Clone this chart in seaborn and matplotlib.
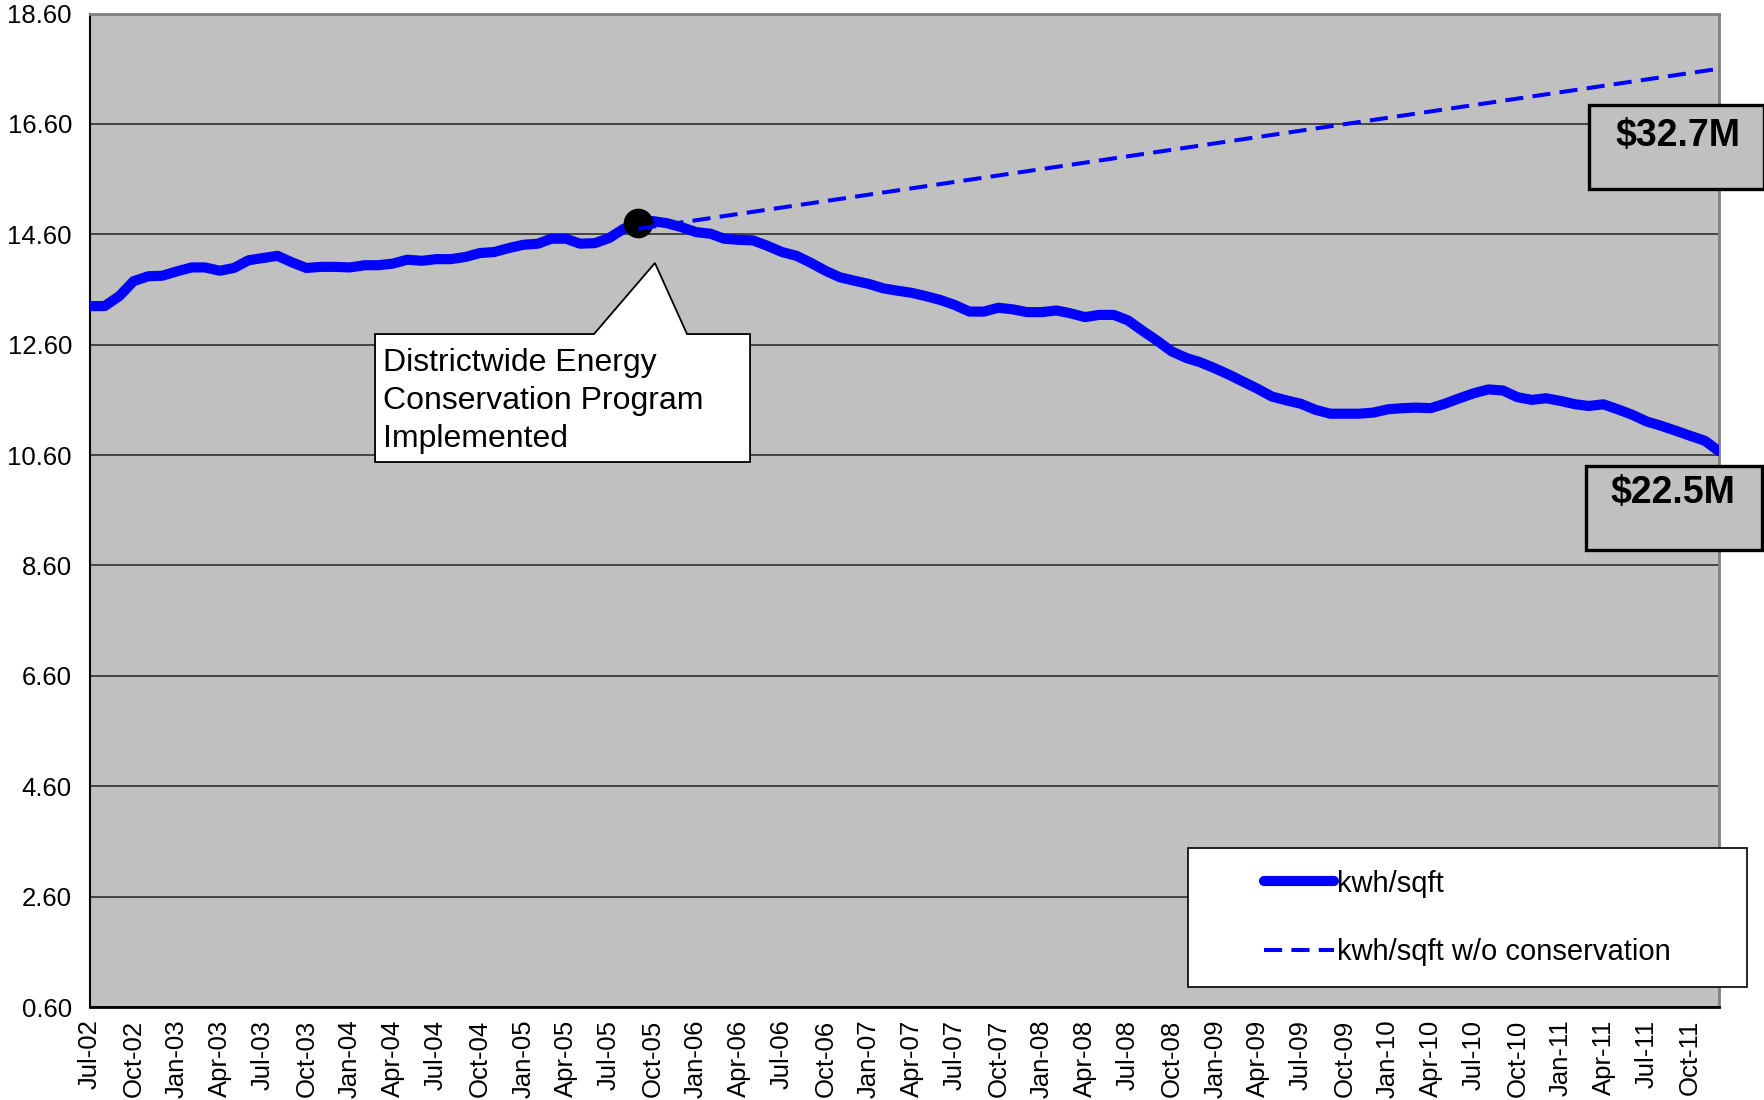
import numpy as np
import pandas as pd
import matplotlib
matplotlib.use("Agg")
import matplotlib.pyplot as plt
from matplotlib.patches import Rectangle, Polygon
import seaborn as sns

sns.set_style("white")
plt.rcParams['font.family'] = ['Liberation Sans', 'DejaVu Sans']
plt.rcParams['text.color'] = 'black'
plt.rcParams['xtick.color'] = 'black'
plt.rcParams['ytick.color'] = 'black'
plt.rcParams['axes.labelcolor'] = 'black'

# dados (kwh/sqft mensal, Jul-02 .. Dec-11)
kwh_sqft = [
    13.30, 13.30, 13.48, 13.75, 13.84, 13.85, 13.93, 14.00, 14.00, 13.94,
    13.99, 14.13, 14.17, 14.21, 14.09, 13.99, 14.01, 14.01, 14.00, 14.04,
    14.04, 14.07, 14.14, 14.12, 14.15, 14.15, 14.19, 14.26, 14.28, 14.35,
    14.41, 14.43, 14.52, 14.52, 14.43, 14.44, 14.53, 14.70, 14.80, 14.84,
    14.80, 14.73, 14.64, 14.61, 14.52, 14.50, 14.49, 14.39, 14.28, 14.21,
    14.08, 13.94, 13.82, 13.76, 13.70, 13.62, 13.58, 13.54, 13.48, 13.41,
    13.32, 13.20, 13.20, 13.27, 13.24, 13.19, 13.19, 13.22, 13.17, 13.10,
    13.14, 13.14, 13.04, 12.85, 12.67, 12.48, 12.36, 12.28, 12.17, 12.05,
    11.93, 11.80, 11.66, 11.59, 11.53, 11.42, 11.35, 11.35, 11.35, 11.37,
    11.43, 11.45, 11.46, 11.45, 11.53, 11.63, 11.72, 11.79, 11.77, 11.65,
    11.60, 11.63, 11.58, 11.52, 11.49, 11.52, 11.43, 11.33, 11.21, 11.13,
    11.04, 10.95, 10.86, 10.67,
]
start_month = "2002-07-01"

# linha sem conservacao (reta a partir da implantacao)
no_cons_months = ["2005-09-01", "2011-12-01"]
no_cons_values = [14.70, 17.60]

# ponto de implantacao do programa
program_month = "2005-09-01"
program_value = 14.80

y_ticks = [0.60, 2.60, 4.60, 6.60, 8.60, 10.60, 12.60, 14.60, 16.60, 18.60]
cost_labels = ["$32.7M", "$22.5M"]
callout_text = "Districtwide Energy\nConservation Program\nImplemented"
legend_labels = ["kwh/sqft", "kwh/sqft w/o conservation"]

months = pd.date_range(start_month, periods=len(kwh_sqft), freq="MS")
df = pd.DataFrame({"month": months, "kwh": kwh_sqft})
df_nc = pd.DataFrame({"month": pd.to_datetime(no_cons_months), "kwh": no_cons_values})

fig = plt.figure(figsize=(17.64, 11), dpi=100)
ax = fig.add_axes([0.051, 0.0845, 0.9235, 0.9032])
ax.set_facecolor("#C0C0C0")

sns.lineplot(data=df, x="month", y="kwh", ax=ax, color="#0000FF", linewidth=7.3,
             solid_joinstyle="round", label=legend_labels[0], zorder=3)
sns.scatterplot(x=[pd.Timestamp(program_month)], y=[program_value], ax=ax,
                color="black", s=390, edgecolor="black", zorder=4, legend=False)
sns.lineplot(data=df_nc, x="month", y="kwh", ax=ax, color="#0000FF", linewidth=2.9,
             linestyle=(0, (4.5, 2.3)), label=legend_labels[1], zorder=5)

ax.set_xlim(months[0], months[-1])
ax.set_ylim(y_ticks[0], y_ticks[-1])
ax.set_yticks(y_ticks)
ax.set_yticklabels([f"{v:.2f}" for v in y_ticks])
ax.set_xticks(months[::3])
ax.set_xticklabels([d.strftime("%b-%y") for d in months[::3]], rotation=90)
ax.set_xlabel("")
ax.set_ylabel("")
ax.tick_params(axis="both", direction="out", length=5, width=1.2, colors="black",
               labelsize=18.5)
ax.tick_params(axis="y", pad=8)
ax.tick_params(axis="x", pad=4)
ax.yaxis.grid(True, color="#3a3a3a", linewidth=1.3)
ax.set_axisbelow(True)

ax.spines["left"].set_color("black")
ax.spines["left"].set_linewidth(1.5)
ax.spines["bottom"].set_color("black")
ax.spines["bottom"].set_linewidth(2)
for s in ["top", "right"]:
    ax.spines[s].set_color("#808080")
    ax.spines[s].set_linewidth(2)

# caixa de anotacao com ponteiro
callout = Polygon([(0.1750, 0.6774), (0.3094, 0.6774), (0.3468, 0.7489), (0.3665, 0.6774),
                   (0.4052, 0.6774), (0.4052, 0.5486), (0.1750, 0.5486)],
                  closed=True, transform=ax.transAxes, facecolor="white",
                  edgecolor="black", linewidth=1.3, zorder=6)
ax.add_patch(callout)
ax.text(0.1796, 0.663, callout_text, transform=ax.transAxes, fontsize=23,
        va="top", ha="left", linespacing=1.33, zorder=7)

# caixas de custo
for (x0, y0, x1, y1), (tx, ty), lab in zip(
        [(0.9202, 0.8234, 1.0276, 0.9079), (0.9184, 0.4600, 1.0264, 0.5445)],
        [(0.9748, 0.8770), (0.9718, 0.5175)], cost_labels):
    ax.add_patch(Rectangle((x0, y0), x1 - x0, y1 - y0, transform=ax.transAxes,
                           facecolor="#C0C0C0", edgecolor="black", linewidth=2.4,
                           clip_on=False, zorder=6))
    ax.text(tx, ty, lab, transform=ax.transAxes, fontsize=27, fontweight="bold",
            ha="center", va="center", zorder=7, clip_on=False)

# legenda
ax.add_patch(Rectangle((0.6740, 0.0201), 1.0172 - 0.6740, 0.160 - 0.0201,
                       transform=ax.transAxes, facecolor="white", edgecolor="black",
                       linewidth=1.2, clip_on=False, zorder=6))
leg = ax.legend(loc="center left", bbox_to_anchor=(0.7133, 0.0896), frameon=False,
                fontsize=21, handlelength=2.4, handletextpad=0.1, labelspacing=1.4,
                borderaxespad=0)
leg.set_zorder(8)

fig.savefig("out.png", dpi=100, facecolor="white")
